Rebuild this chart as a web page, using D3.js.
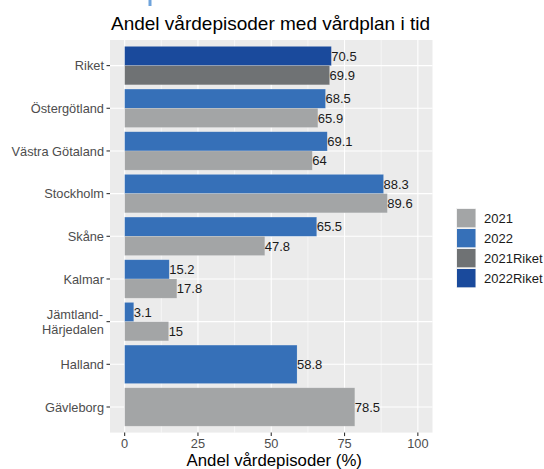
<!DOCTYPE html>
<html>
<head>
<meta charset="utf-8">
<script src="https://cdnjs.cloudflare.com/ajax/libs/d3/7.9.0/d3.min.js"></script>
<style>
  html, body { margin: 0; padding: 0; background: #fff; }
  svg { display: block; font-family: "Liberation Sans", Arial, sans-serif; }
</style>
</head>
<body>
<div id="chart"></div>
<script>
// Data
const regions = ['Riket', 'Östergötland', 'Västra Götaland', 'Stockholm', 'Skåne', 'Kalmar', 'Jämtland-\nHärjedalen', 'Halland', 'Gävleborg'];
const values2021 = [69.9, 65.9, 64, 89.6, 47.8, 17.8, 15, null, 78.5];
const values2022 = [70.5, 68.5, 69.1, 88.3, 65.5, 15.2, 3.1, 58.8, null];
const legendKeys = ['2021', '2022', '2021Riket', '2022Riket'];
const xTicks = [0, 25, 50, 75, 100];
const xMinor = [12.5, 37.5, 62.5, 87.5];

const W = 544, H = 469;
const panel = { left: 110, right: 432.5, top: 40, bottom: 432.6 };

const colors = {
  '2021': '#a3a5a6',
  '2022': '#3670b8',
  '2021Riket': '#6f7274',
  '2022Riket': '#1a4a9c'
};

// build rows: 2022 above 2021 inside each region
const rows = regions.map((r, i) => {
  const bars = [];
  const riket = r === 'Riket';
  if (values2022[i] != null) bars.push({ year: '2022', key: riket ? '2022Riket' : '2022', value: values2022[i] });
  if (values2021[i] != null) bars.push({ year: '2021', key: riket ? '2021Riket' : '2021', value: values2021[i] });
  return { region: r, bars };
});

const svg = d3.select('#chart').append('svg')
  .attr('width', W)
  .attr('height', H);

// little blue mark at the top edge
svg.append('rect')
  .attr('x', 148.5).attr('y', 0).attr('width', 3).attr('height', 6)
  .attr('fill', '#6fa3db');

const x = d3.scaleLinear().domain([-5, 105]).range([panel.left, panel.right]);
const y = d3.scaleBand().domain(regions).range([panel.top, panel.bottom])
  .paddingInner(0.1).paddingOuter(0.15);

// panel background + grid
svg.append('rect')
  .attr('x', panel.left).attr('y', panel.top)
  .attr('width', panel.right - panel.left).attr('height', panel.bottom - panel.top)
  .attr('fill', '#ebebeb');

const grid = svg.append('g');
grid.selectAll('line.minor').data(xMinor).join('line')
  .attr('x1', d => x(d)).attr('x2', d => x(d))
  .attr('y1', panel.top).attr('y2', panel.bottom)
  .attr('stroke', '#fff').attr('stroke-width', 0.55);
grid.selectAll('line.major').data(xTicks).join('line')
  .attr('x1', d => x(d)).attr('x2', d => x(d))
  .attr('y1', panel.top).attr('y2', panel.bottom)
  .attr('stroke', '#fff').attr('stroke-width', 1.1);
grid.selectAll('line.hmajor').data(regions).join('line')
  .attr('x1', panel.left).attr('x2', panel.right)
  .attr('y1', d => y(d) + y.bandwidth() / 2).attr('y2', d => y(d) + y.bandwidth() / 2)
  .attr('stroke', '#fff').attr('stroke-width', 1.1);

// bars
const rowG = svg.append('g').selectAll('g').data(rows).join('g')
  .attr('transform', d => `translate(0,${y(d.region)})`);

rowG.each(function (d) {
  const sub = d3.scaleBand().domain(d.bars.map(b => b.year)).range([0, y.bandwidth()]);
  const g = d3.select(this);
  g.selectAll('rect').data(d.bars).join('rect')
    .attr('x', x(0))
    .attr('y', b => sub(b.year))
    .attr('width', b => x(b.value) - x(0))
    .attr('height', sub.bandwidth())
    .attr('fill', b => colors[b.key])
    .attr('stroke', 'rgba(255,255,255,0.25)')
    .attr('stroke-width', 0.6);
  g.selectAll('text').data(d.bars).join('text')
    .attr('x', b => x(b.value))
    .attr('y', b => sub(b.year) + sub.bandwidth() / 2)
    .attr('dy', '0.36em')
    .attr('font-size', 13)
    .attr('fill', '#1a1a1a')
    .text(b => b.value);
});

// y axis
const yAxis = svg.append('g');
regions.forEach(r => {
  const cy = y(r) + y.bandwidth() / 2;
  yAxis.append('line')
    .attr('x1', panel.left - 3.5).attr('x2', panel.left)
    .attr('y1', cy).attr('y2', cy)
    .attr('stroke', '#333').attr('stroke-width', 1.1);
  const lines = r.split('\n');
  const t = yAxis.append('text')
    .attr('text-anchor', 'end')
    .attr('font-size', 12.8)
    .attr('fill', '#4d4d4d');
  lines.forEach((ln, i) => {
    t.append('tspan')
      .attr('x', panel.left - 6 - (i === 0 && lines.length > 1 ? 1 : 0))
      .attr('y', cy + (i - (lines.length - 1) / 2) * 14.5)
      .attr('dy', '0.36em')
      .text(ln);
  });
});

// x axis
const xAxis = svg.append('g');
xTicks.forEach(v => {
  xAxis.append('line')
    .attr('x1', x(v)).attr('x2', x(v))
    .attr('y1', panel.bottom).attr('y2', panel.bottom + 3.5)
    .attr('stroke', '#333').attr('stroke-width', 1.1);
  xAxis.append('text')
    .attr('x', x(v)).attr('y', panel.bottom + 15)
    .attr('text-anchor', 'middle')
    .attr('font-size', 12.8)
    .attr('fill', '#4d4d4d')
    .text(v);
});

svg.append('text')
  .attr('x', (panel.left + panel.right) / 2 + 3).attr('y', 466)
  .attr('text-anchor', 'middle')
  .attr('font-size', 16.8)
  .attr('fill', '#000')
  .text('Andel vårdepisoder (%)');

svg.append('text')
  .attr('x', panel.left + 1).attr('y', 29.5)
  .attr('font-size', 19)
  .attr('fill', '#000')
  .text('Andel vårdepisoder med vårdplan i tid');

// legend
const legend = svg.append('g').attr('transform', 'translate(456,208)');
legendKeys.forEach((k, i) => {
  legend.append('rect')
    .attr('x', 0).attr('y', i * 20)
    .attr('width', 20).attr('height', 20)
    .attr('fill', '#f2f2f2');
  legend.append('rect')
    .attr('x', 1).attr('y', i * 20 + 1)
    .attr('width', 18.5).attr('height', 18.3)
    .attr('fill', colors[k]);
  legend.append('text')
    .attr('x', 28).attr('y', i * 20 + 10)
    .attr('dy', '0.36em')
    .attr('font-size', 13)
    .attr('fill', '#1a1a1a')
    .text(k);
});
</script>
</body>
</html>
